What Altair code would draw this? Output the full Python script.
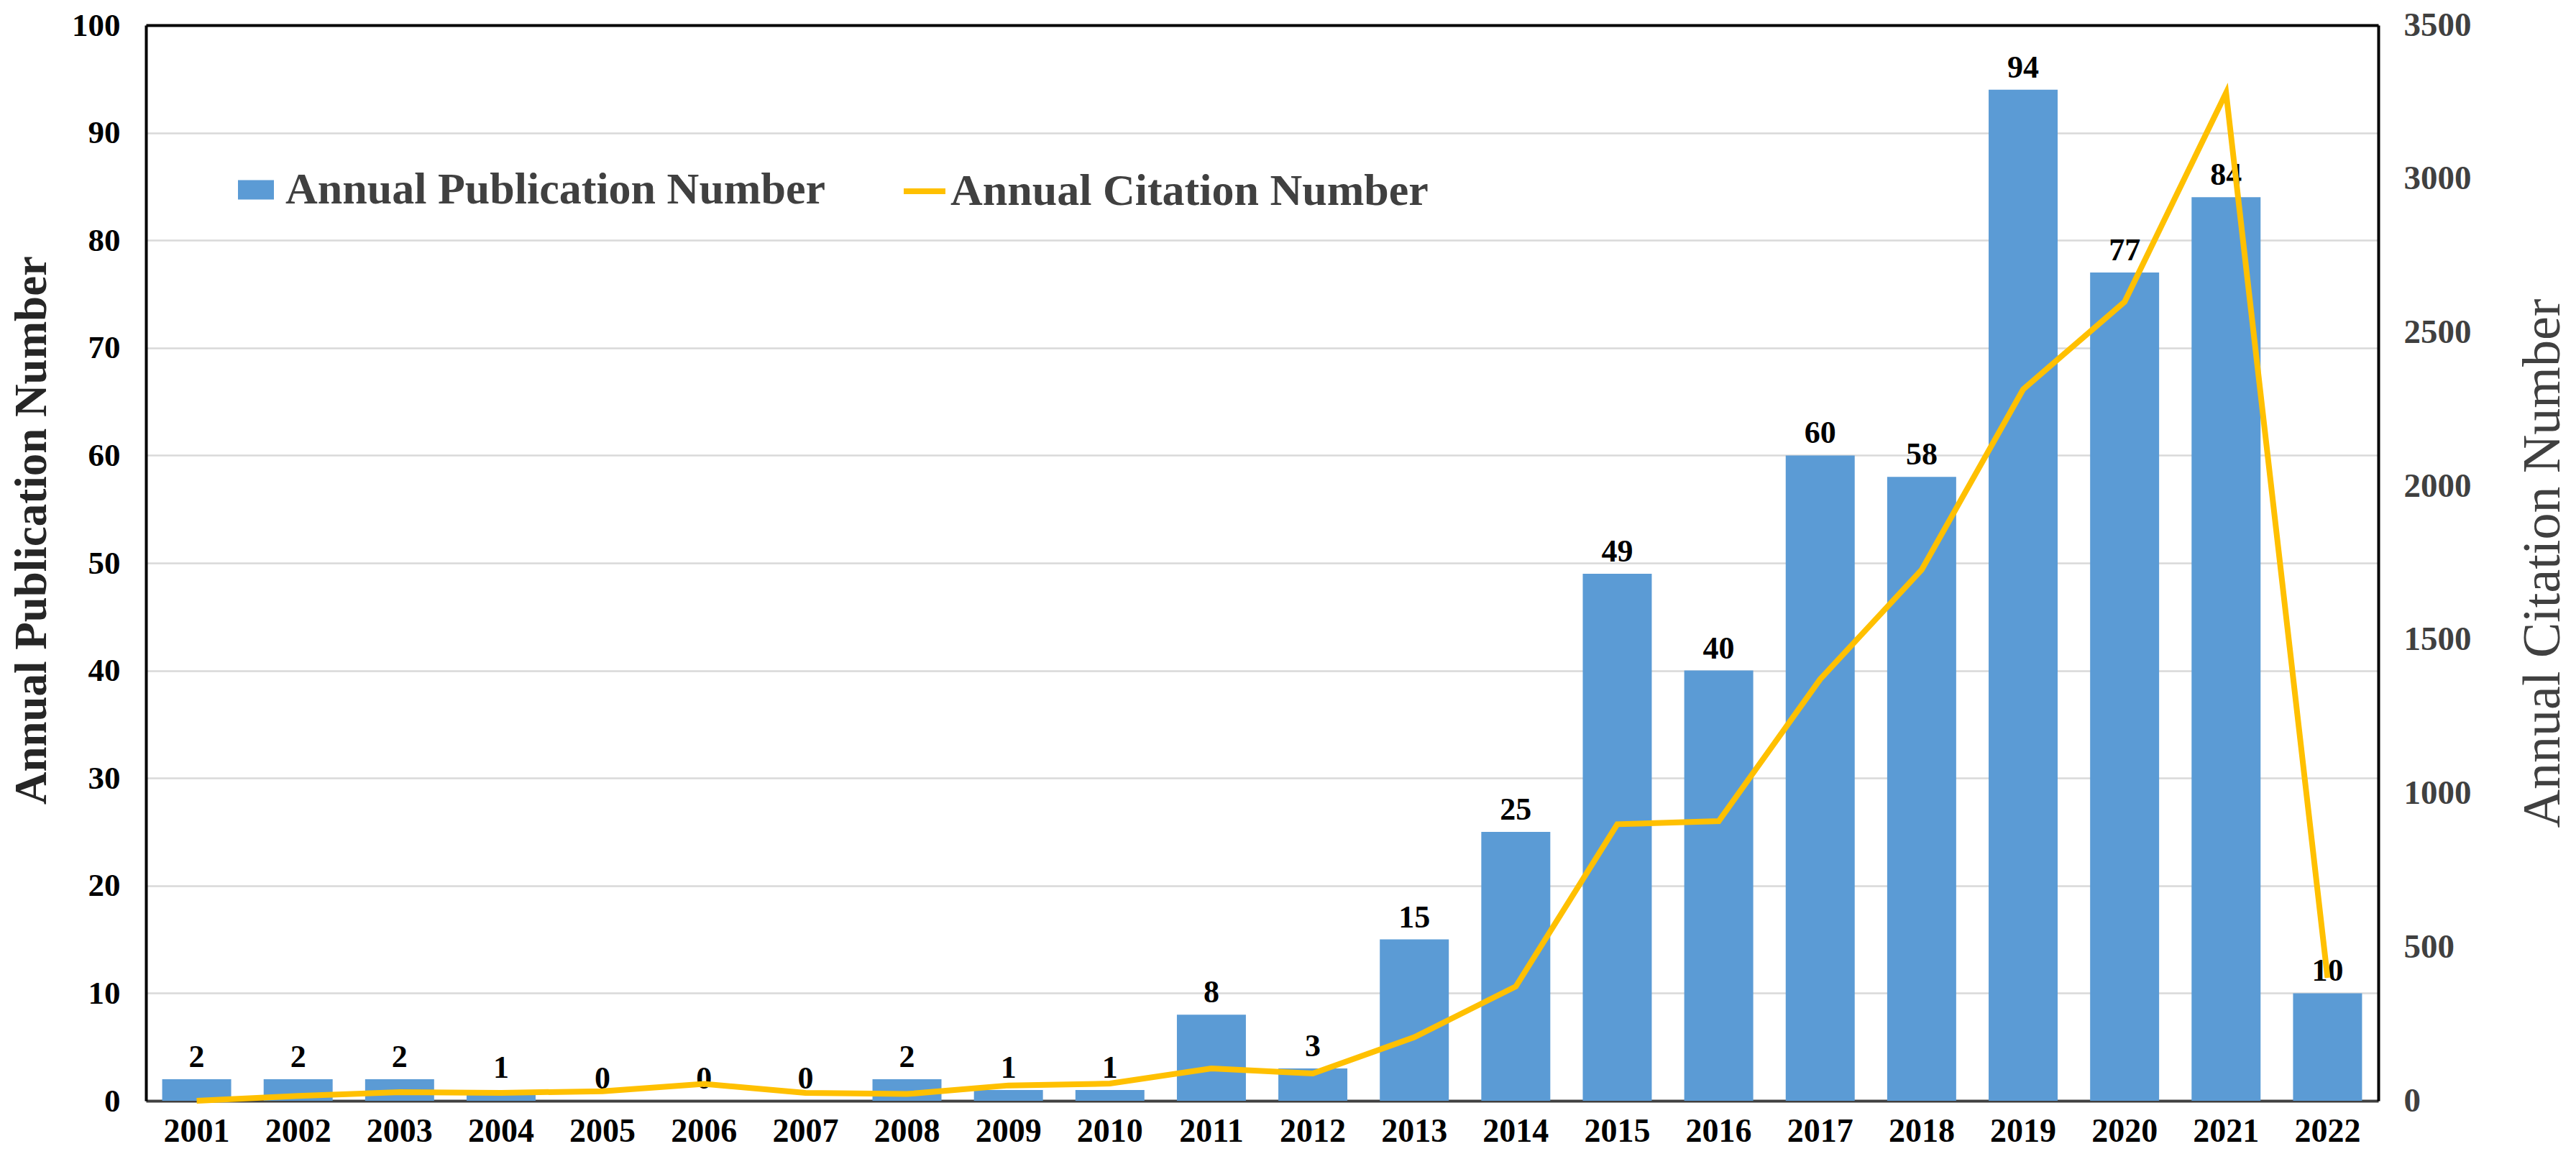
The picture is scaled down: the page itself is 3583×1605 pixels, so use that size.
import altair as alt
import pandas as pd

years = [str(y) for y in range(2001, 2023)]
publications = [2, 2, 2, 1, 0, 0, 0, 2, 1, 1, 8, 3, 15, 25, 49, 40, 60, 58, 94, 77, 84, 10]
citations = [0, 16, 28, 26, 31, 55, 26, 22, 50, 56, 105, 89, 207, 372, 900, 910, 1372, 1728, 2315, 2600, 3280, 400]

pub_name = "Annual Publication Number"
cit_name = "Annual Citation Number"

df = pd.DataFrame({
    "year": years,
    "pub": publications,
    "cit": citations,
    "pub_series": [pub_name] * len(years),
    "cit_series": [cit_name] * len(years),
})

FONT = "Liberation Serif"
BLUE = "#5B9BD5"
GOLD = "#FFC000"

x_enc = alt.X(
    "year:O",
    title=None,
    scale=alt.Scale(paddingInner=0.32, paddingOuter=0.16),
    axis=alt.Axis(
        labelAngle=0, ticks=False, domainColor="#404040", domainWidth=4,
        labelFont=FONT, labelFontWeight="bold", labelFontSize=46,
        labelColor="#000000", labelPadding=20, grid=False,
    ),
)

y_left = alt.Y(
    "pub:Q",
    scale=alt.Scale(domain=[0, 100], nice=False),
    axis=alt.Axis(
        title=pub_name, values=list(range(0, 101, 10)), grid=True,
        gridColor={"condition": {"test": "datum.value === 100", "value": "#000000"}, "value": "#D9D9D9"},
        gridWidth={"condition": {"test": "datum.value === 100", "value": 4}, "value": 2.5},
        ticks=False,
        domainColor="#000000", domainWidth=4,
        labelFont=FONT, labelFontWeight="bold", labelFontSize=45,
        labelColor="#000000", labelPadding=36,
        titleFont=FONT, titleFontWeight="bold", titleFontSize=63,
        titleColor="#262626", titlePadding=23, titleY=702,
    ),
)

bars = alt.Chart(df).mark_bar(color=BLUE).encode(
    x=x_enc,
    y=y_left,
    fill=alt.Fill(
        "pub_series:N",
        scale=alt.Scale(domain=[pub_name], range=[BLUE]),
        legend=alt.Legend(
            title=None, orient="none", legendX=122, legendY=198,
            symbolType="M-1,-0.54H1V0.54H-1Z", symbolSize=2500,
            symbolStrokeWidth=0, labelFont=FONT, labelFontWeight="bold",
            labelFontSize=62, labelColor="#404040", labelOffset=10,
            padding=0, labelLimit=2000,
        ),
    ),
)

labels = alt.Chart(df).mark_text(
    font=FONT, fontWeight="bold", fontSize=44, color="#000000",
    baseline="alphabetic", dy=-17,
).encode(
    x=alt.X("year:O"),
    y=alt.Y("pub:Q"),
    text=alt.Text("pub:Q"),
)

line = alt.Chart(df).mark_line(strokeWidth=8, color=GOLD).encode(
    x=alt.X("year:O"),
    y=alt.Y(
        "cit:Q",
        scale=alt.Scale(domain=[0, 3500], nice=False),
        axis=alt.Axis(
            title=cit_name, orient="right", values=list(range(0, 3501, 500)),
            format="d",
            grid=False, ticks=False, domainColor="#000000", domainWidth=4,
            labelFont=FONT, labelFontWeight="bold", labelFontSize=47,
            labelColor="#404040", labelPadding=35,
            titleFont=FONT, titleFontWeight="normal", titleFontSize=74,
            titleColor="#404040", titlePadding=138, titleAngle=270,
        ),
    ),
    stroke=alt.Stroke(
        "cit_series:N",
        scale=alt.Scale(domain=[cit_name], range=[GOLD]),
        legend=alt.Legend(
            title=None, orient="none", legendX=1050, legendY=198,
            symbolType="stroke", symbolSize=3364, symbolStrokeWidth=8,
            labelFont=FONT, labelFontWeight="bold", labelFontSize=62,
            labelColor="#404040", labelOffset=3, padding=0, labelLimit=2000,
        ),
    ),
)

left = alt.layer(bars, labels)

chart = alt.layer(left, line).resolve_scale(
    y="independent", fill="independent", stroke="independent"
).properties(
    width=3105, height=1496,
    padding={"left": 5, "top": 3, "right": 0, "bottom": 0},
).configure_view(
    stroke="#000000", strokeWidth=4
).configure(background="#FFFFFF")

chart.save("out.html", embed_options={"renderer": "svg", "actions": False})
